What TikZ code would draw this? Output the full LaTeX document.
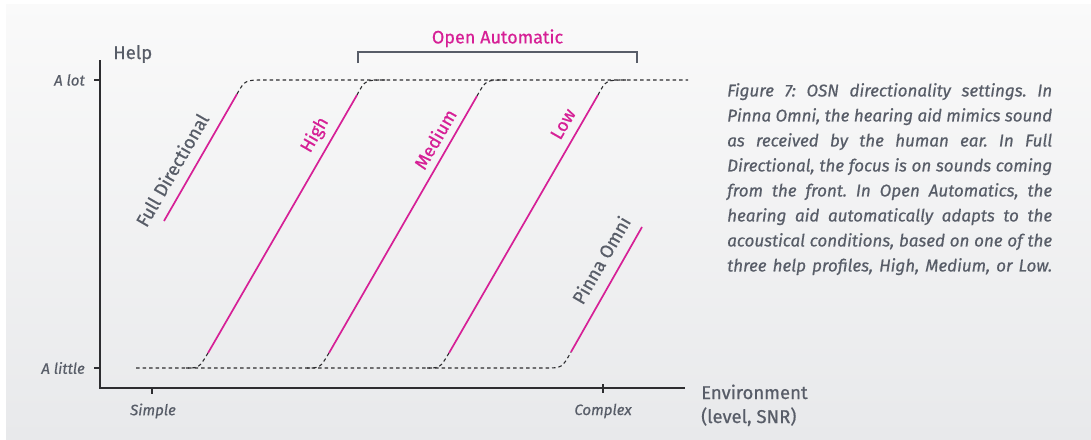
\documentclass[tikz,border=0pt]{standalone}
\usepackage{fontspec}
\setmainfont{Fira Sans}[UprightFeatures={FakeBold=0.6}, ItalicFeatures={FakeBold=0.6}]

\definecolor{osnpink}{RGB}{214,32,150}
\definecolor{osngray}{RGB}{88,93,104}
\definecolor{osnaxis}{RGB}{45,45,48}
\definecolor{osnbg}{RGB}{232,233,235}

\tikzset{
  profile/.style={osnpink, line width=1.7pt},
  dotline/.style={osnaxis, line width=1.1pt, dash pattern=on 3.5pt off 3pt},
  axisline/.style={osnaxis, line width=1.6pt},
  ticklab/.style={osngray, font=\itshape\fontsize{15}{18}\selectfont, inner sep=0pt},
  bigtext/.style={osngray, font=\fontsize{18.5}{22}\selectfont, inner sep=0pt},
  pinktext/.style={osnpink, font=\fontsize{18}{22}\selectfont, inner sep=0pt},
  captext/.style={osngray, font=\itshape\fontsize{17}{25}\selectfont, inner sep=0pt}
}

\begin{document}
\frenchspacing
\begin{tikzpicture}[x=1pt,y=-1pt]
    \useasboundingbox (0,0) rectangle (1091,439);
    \shade[top color=white!98!black, bottom color=osnbg] (6,4) rectangle (1091,439);

    % axes
    \draw[axisline] (100,60) -- (100,388) -- (685,388);
    \draw[axisline] (100,80) -- (94,80);
    \draw[axisline] (100,368) -- (94,368);
    \draw[axisline] (152,388) -- (152,394);
    \draw[axisline] (603,384) -- (603,393);
    \node[bigtext, anchor=base west] (help) at (113,59) {Help};
    \node[ticklab, anchor=east] (alot) at (85,80) {A lot};
    \node[ticklab, anchor=east] (alittle) at (85,368) {A little};
    \node[ticklab] (simple) at (153,411) {Simple};
    \node[ticklab] (complex) at (603,411) {Complex};
    \node[bigtext, anchor=base west] (env) at (701,399) {Environment};
    \node[bigtext, anchor=base west] (envsub) at (701,423) {(level, SNR)};

    % profiles
    \coordinate (fd-bot) at (164,221);   \coordinate (fd-top) at (237,94);
    \coordinate (high-bot) at (208,353); \coordinate (high-top) at (357,95);
    \coordinate (med-bot) at (329,353);  \coordinate (med-top) at (477,96);
    \coordinate (low-bot) at (449,353);  \coordinate (low-top) at (598,95);
    \coordinate (pinna-bot) at (571,352); \coordinate (pinna-top) at (642,227);

    \draw[dotline] (fd-top) .. controls +(8,-14) .. (265,80) -- (688,80);
    \draw[dotline] (high-top) .. controls +(8,-15) .. (385,80);
    \draw[dotline] (med-top) .. controls +(9,-16) .. (505,80);
    \draw[dotline] (low-top) .. controls +(8,-15) .. (626,80);
    \draw[dotline] (136,368) -- (545,368) .. controls (562,368) .. (pinna-bot);
    \draw[dotline] (high-bot) .. controls +(-9,15) .. (186,368);
    \draw[dotline] (med-bot) .. controls +(-9,15) .. (307,368);
    \draw[dotline] (low-bot) .. controls +(-9,15) .. (427,368);

    \draw[profile] (fd-bot) -- (fd-top);
    \draw[profile] (high-bot) -- (high-top);
    \draw[profile] (med-bot) -- (med-top);
    \draw[profile] (low-bot) -- (low-top);
    \draw[profile] (pinna-bot) -- (pinna-top);

    \node[bigtext, rotate=60] (fdlab) at (172,170) {Full Directional};
    \node[pinktext, rotate=60] (highlab) at (315,135) {High};
    \node[pinktext, rotate=60] (medlab) at (435,139) {Medium};
    \node[pinktext, rotate=60] (lowlab) at (563,124) {Low};
    \node[bigtext, rotate=60] (pinnalab) at (601,260) {Pinna Omni};

    % bracket
    \draw[osngray, line width=1.5pt] (358,63) -- (358,52)
        -- node[pinktext, above=4pt] (openauto) {Open Automatic} (637,52) -- (637,63);

    % caption
    \node[captext, anchor=north west, align=left] (caption) at (727,83) {%
        \makebox[325pt][s]{Figure 7: OSN directionality settings. In}\\
        \makebox[325pt][s]{Pinna Omni, the hearing aid mimics sound}\\
        \makebox[325pt][s]{as received by the human ear. In Full}\\
        \makebox[325pt][s]{Directional, the focus is on sounds coming}\\
        \makebox[325pt][s]{from the front. In Open Automatics, the}\\
        \makebox[325pt][s]{hearing aid automatically adapts to the}\\
        \makebox[325pt][s]{acoustical conditions, based on one of the}\\
        \makebox[325pt][s]{three help profiles, High, Medium, or Low.}};
\end{tikzpicture}
\end{document}
